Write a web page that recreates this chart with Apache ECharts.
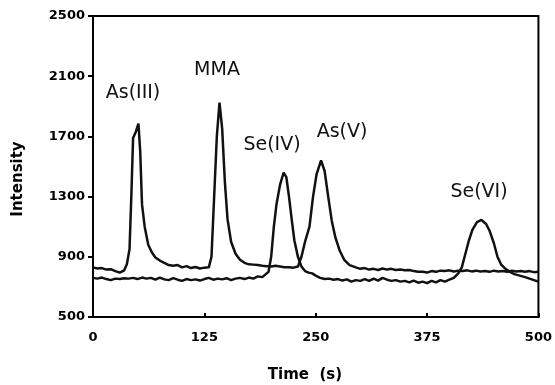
<!DOCTYPE html>
<html><head><meta charset="utf-8">
<script src="https://cdn.jsdelivr.net/npm/echarts@6/dist/echarts.min.js"></script>
<style>html,body{margin:0;padding:0;background:#fff}#c{width:555px;height:385px}</style>
</head><body><div id="c"></div>
<script>
// As-species trace (As(III), MMA, As(V))
var timeAs = [0,5,10,15,20,25,30,35,38,41,43,45,48,51,53,55,58,62,66,70,75,80,85,90,95,100,105,110,115,120,125,130,133,136,139,142,145,148,151,155,160,165,170,175,180,185,190,195,200,205,210,215,220,225,230,234,238,243,247,251,256,260,264,268,272,277,282,288,295,300,305,310,315,320,325,330,335,340,345,350,355,360,365,370,375,380,385,390,395,400,405,410,415,420,425,430,435,440,445,450,455,460,465,470,475,480,485,490,495,500];
var valAs  = [830,822,825,815,818,805,795,810,850,950,1300,1690,1730,1785,1600,1250,1100,980,930,895,875,860,845,840,845,830,838,825,832,822,828,830,900,1300,1700,1925,1750,1400,1150,1000,920,880,860,850,848,845,840,838,835,840,835,830,830,828,835,900,1000,1100,1300,1450,1540,1470,1300,1140,1030,940,880,845,830,820,825,815,820,812,822,815,820,812,815,810,812,805,800,800,795,805,800,808,805,810,802,808,805,810,803,808,802,805,800,808,803,806,800,808,802,806,800,805,798,800];
// Se-species trace (Se(IV), Se(VI))
var timeSe = [0,5,10,15,20,25,30,35,40,45,50,55,60,65,70,75,80,85,90,95,100,105,110,115,120,125,130,135,140,145,150,155,160,165,170,175,180,185,190,193,197,200,203,206,210,214,217,220,223,226,230,234,238,242,246,250,255,260,265,270,275,280,285,290,295,300,305,310,315,320,325,330,335,340,345,350,355,360,365,370,375,380,385,390,395,400,405,410,414,418,422,426,431,436,441,445,450,454,458,463,468,473,479,485,490,495,500];
var valSe  = [760,755,762,752,745,755,752,758,755,760,752,762,755,760,748,762,750,745,758,748,740,752,745,750,742,752,760,748,755,750,758,745,755,760,752,762,755,770,765,780,800,900,1100,1250,1380,1460,1430,1300,1150,1010,900,835,805,795,790,775,760,752,755,748,752,742,750,735,745,740,752,740,755,742,760,748,740,745,735,740,730,742,728,735,725,740,730,745,735,748,760,790,830,920,1010,1080,1130,1145,1120,1075,990,900,850,820,800,785,775,765,755,745,735];
var xTicks = [0,125,250,375,500];
var yTicks = [500,900,1300,1700,2100,2500];
var peakNames = ['As(III)','MMA','Se(IV)','As(V)','Se(VI)'];

function pairs(t,v){return t.map(function(x,i){return [x,v[i]];});}
var chart = echarts.init(document.getElementById('c'));
var lblFont = {fontFamily:'DejaVu Sans',fontWeight:'bold',fontSize:13,color:'#000',formatter:function(v){return String(v);}};
var peakPos = [[133,93],[217,70],[272,145],[342,132],[479,192]];
chart.setOption({
  animation:false,
  backgroundColor:'#fff',
  grid:{left:93,right:16,top:16,bottom:68,show:true,borderColor:'#000',borderWidth:2},
  xAxis:{type:'value',min:xTicks[0],max:xTicks[xTicks.length-1],interval:125,
    axisLine:{lineStyle:{color:'#000',width:2}},
    axisTick:{inside:true,length:4,lineStyle:{color:'#000',width:2}},
    axisLabel:Object.assign({margin:14},lblFont),
    splitLine:{show:false}},
  yAxis:{type:'value',min:yTicks[0],max:yTicks[yTicks.length-1],interval:400,
    axisLine:{show:true,lineStyle:{color:'#000',width:2}},
    axisTick:{show:true,length:5,lineStyle:{color:'#000',width:2}},
    axisLabel:Object.assign({margin:8},lblFont),
    splitLine:{show:false}},
  series:[
    {type:'line',data:pairs(timeAs,valAs),showSymbol:false,lineStyle:{color:'#111',width:2.5}},
    {type:'line',data:pairs(timeSe,valSe),showSymbol:false,lineStyle:{color:'#111',width:2.5}}
  ],
  graphic:[
    {type:'text',x:18,y:179,rotation:Math.PI/2,style:{text:'Intensity',fontFamily:'DejaVu Sans',fontWeight:'bold',fontSize:15,fill:'#000',textAlign:'center',textVerticalAlign:'middle'}},
    {type:'text',x:305,y:375,style:{text:'Time  (s)',fontFamily:'DejaVu Sans',fontWeight:'bold',fontSize:15,fill:'#000',textAlign:'center',textVerticalAlign:'middle'}}
  ].concat(peakNames.map(function(n,i){
    return {type:'text',x:peakPos[i][0],y:peakPos[i][1],style:{text:n,fontFamily:'DejaVu Sans',fontSize:19,fill:'#111',textAlign:'center',textVerticalAlign:'middle'}};
  }))
});
</script></body></html>
